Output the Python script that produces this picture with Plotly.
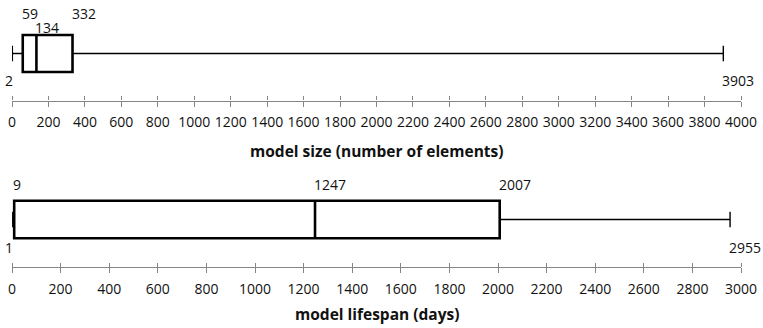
import plotly.graph_objects as go

# Data (five-number summaries)
size_stats = {"min": 2, "q1": 59, "median": 134, "q3": 332, "max": 3903}
life_stats = {"min": 1, "q1": 9, "median": 1247, "q3": 2007, "max": 2955}
size_ticks = list(range(0, 4001, 200))
life_ticks = list(range(0, 3001, 200))
size_title = "model size (number of elements)"
life_title = "model lifespan (days)"

W, H = 763, 328
FONT = "Open Sans"
X0, X1 = 12, 741  # px extent of axes


def py(px):
    return 1 - px / H


fig = go.Figure()

panels = [
    dict(s=size_stats, xa="x", ya="y", rng=[0, 4000], ticks=size_ticks, title=size_title,
         center=53.5, boxh=37, axis_px=100.5, title_px=151, med_label_px=28, top_label_px=13, bot_label_px=80),
    dict(s=life_stats, xa="x2", ya="y2", rng=[0, 3000], ticks=life_ticks, title=life_title,
         center=219.5, boxh=37.5, axis_px=267, title_px=314, med_label_px=184, top_label_px=184, bot_label_px=247),
]

annotations = []
layout_axes = {}
for i, p in enumerate(panels):
    s = p["s"]
    dom_top, dom_bot = p["center"] - 40, p["center"] + 40
    boxw = p["boxh"] / 80 * 2
    fig.add_trace(go.Box(
        orientation="h", y=[0], q1=[s["q1"]], median=[s["median"]], q3=[s["q3"]],
        lowerfence=[s["q1"]], upperfence=[s["q3"]], width=boxw,
        line=dict(color="black", width=2.6), fillcolor="white",
        xaxis=p["xa"], yaxis=p["ya"], showlegend=False, hoverinfo="skip", boxpoints=False,
    ))
    fig.add_trace(go.Scatter(
        x=[s["min"], s["q1"], None, s["q3"], s["max"]], y=[0, 0, None, 0, 0],
        mode="lines", line=dict(color="black", width=1.4),
        xaxis=p["xa"], yaxis=p["ya"], showlegend=False, hoverinfo="skip",
    ))
    fig.add_trace(go.Scatter(
        x=[s["min"], s["max"]], y=[0, 0], mode="markers",
        marker=dict(symbol="line-ns", size=11, line=dict(color="black", width=1.4)),
        xaxis=p["xa"], yaxis=p["ya"], showlegend=False, hoverinfo="skip",
    ))
    sfx = "" if i == 0 else "2"
    layout_axes["xaxis" + sfx] = dict(
        domain=[X0 / W, X1 / W], range=p["rng"], anchor="free", position=py(p["axis_px"]),
        showgrid=False, zeroline=False, showline=True, linecolor="#868686", linewidth=1.2,
        tickmode="array", tickvals=p["ticks"], ticktext=[str(t) for t in p["ticks"]],
        ticks="outside", ticklen=5, tickcolor="#868686", tickwidth=1.2,
        minor=dict(ticks="inside", tickvals=p["ticks"], ticklen=4, tickcolor="#868686", tickwidth=1.2),
        tickfont=dict(family=FONT, size=14, color="#111"), ticklabelstandoff=4,
        automargin=False, fixedrange=True,
    )
    layout_axes["yaxis" + sfx] = dict(
        domain=[py(dom_bot), py(dom_top)], range=[-1, 1], visible=False, anchor="x" + sfx,
        automargin=False, fixedrange=True,
    )
    xref = p["xa"]
    tf = dict(family=FONT, size=14, color="#111")
    annotations += [
        dict(x=s["q1"], y=py(p["top_label_px"]), xref=xref, yref="paper", text=str(s["q1"]),
             xanchor="left", yanchor="middle", showarrow=False, font=tf, xshift=-3),
        dict(x=s["q3"], y=py(p["top_label_px"]), xref=xref, yref="paper", text=str(s["q3"]),
             xanchor="left", yanchor="middle", showarrow=False, font=tf, xshift=-3),
        dict(x=s["median"], y=py(p["med_label_px"]), xref=xref, yref="paper", text=str(s["median"]),
             xanchor="left", yanchor="middle", showarrow=False, font=tf, xshift=-3),
        dict(x=s["min"], y=py(p["bot_label_px"]), xref=xref, yref="paper", text=str(s["min"]),
             xanchor="right", yanchor="middle", showarrow=False, font=tf, xshift=3),
        dict(x=s["max"], y=py(p["bot_label_px"]), xref=xref, yref="paper", text=str(s["max"]),
             xanchor="left", yanchor="middle", showarrow=False, font=tf, xshift=-3),
        dict(x=(X0 + X1) / 2 / W, y=py(p["title_px"]), xref="paper", yref="paper",
             text="<b>" + p["title"] + "</b>", xanchor="center", yanchor="middle", showarrow=False,
             font=dict(family=FONT, size=15.5, color="#111")),
    ]

fig.update_layout(
    width=W, height=H, margin=dict(l=0, r=0, t=0, b=0, autoexpand=False),
    paper_bgcolor="white", plot_bgcolor="white",
    annotations=annotations, **layout_axes,
)

fig.write_html("out.html")
